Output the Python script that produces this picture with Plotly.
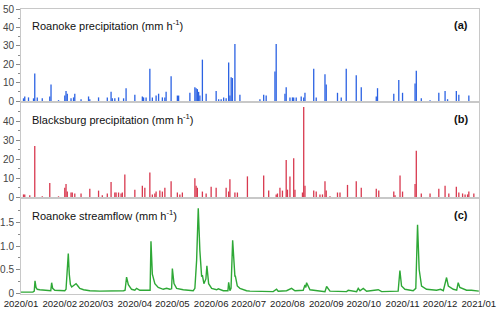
import plotly.graph_objects as go
from plotly.subplots import make_subplots
import pandas as pd

# ---------------- data ----------------
roa_dates = ["2020-01-03", "2020-01-04", "2020-01-07", "2020-01-11", "2020-01-12", "2020-01-14",
             "2020-01-18", "2020-01-24", "2020-01-25", "2020-01-31", "2020-02-05", "2020-02-06",
             "2020-02-07", "2020-02-10", "2020-02-12", "2020-02-13", "2020-02-18", "2020-02-24",
             "2020-02-25", "2020-03-03", "2020-03-10", "2020-03-13", "2020-03-14", "2020-03-16",
             "2020-03-19", "2020-03-23", "2020-03-25", "2020-04-01", "2020-04-07", "2020-04-08",
             "2020-04-10", "2020-04-13", "2020-04-15", "2020-04-18", "2020-04-20", "2020-04-23",
             "2020-04-25", "2020-04-26", "2020-04-30", "2020-05-05", "2020-05-06", "2020-05-15",
             "2020-05-19", "2020-05-20", "2020-05-21", "2020-05-22", "2020-05-23", "2020-05-25",
             "2020-05-28", "2020-06-05", "2020-06-07", "2020-06-09", "2020-06-11", "2020-06-13",
             "2020-06-15", "2020-06-16", "2020-06-17", "2020-06-18", "2020-06-20", "2020-06-24",
             "2020-07-10", "2020-07-13", "2020-07-15", "2020-07-22", "2020-07-23", "2020-07-30",
             "2020-07-31", "2020-08-03", "2020-08-05", "2020-08-06", "2020-08-08", "2020-08-12",
             "2020-08-14", "2020-08-15", "2020-08-22", "2020-08-24", "2020-08-31", "2020-09-01",
             "2020-09-10", "2020-09-13", "2020-09-17", "2020-09-25", "2020-09-29", "2020-10-11",
             "2020-10-12", "2020-10-25", "2020-10-29", "2020-11-01", "2020-11-11", "2020-11-12",
             "2020-11-16", "2020-11-23", "2020-11-30", "2020-12-05", "2020-12-07", "2020-12-14",
             "2020-12-16", "2020-12-24"]
roa_vals = [1.5, 2.5, 2, 1.5, 15, 2,
            1.5, 2.5, 9, 0.5, 3, 5.5,
            4, 1.5, 2, 4, 1, 2.5,
            1, 2, 2, 5, 1.5, 1.5,
            2, 1.5, 7, 3.5, 2.5, 2,
            2, 17.5, 2, 3, 4, 2,
            2, 5, 13.5, 3, 3, 4.5,
            7.5, 7, 6.5, 5, 3, 22.5,
            4, 5.5, 1, 1, 2, 1.5,
            21, 3, 13, 12.5, 31, 3.5,
            1, 3.5, 3, 16, 31, 4,
            7.5, 2, 2, 2, 2, 2.5,
            2, 4.5, 17.5, 2, 14.5, 9,
            4.5, 2, 17.5, 14, 7.5, 2.5,
            7, 4, 11.5, 4.5, 9.5, 16.5,
            1.5, 0.5, 4.5, 5.5, 1, 5.5,
            3.5, 3]

bks_dates = ["2020-01-03", "2020-01-04", "2020-01-08", "2020-01-12", "2020-01-18", "2020-01-24",
             "2020-01-31", "2020-02-05", "2020-02-06", "2020-02-07", "2020-02-10", "2020-02-11",
             "2020-02-13", "2020-02-18", "2020-02-25", "2020-03-03", "2020-03-06", "2020-03-10",
             "2020-03-13", "2020-03-16", "2020-03-17", "2020-03-19", "2020-03-21", "2020-03-22",
             "2020-03-24", "2020-04-01", "2020-04-07", "2020-04-09", "2020-04-13", "2020-04-15",
             "2020-04-17", "2020-04-18", "2020-04-21", "2020-04-23", "2020-04-25", "2020-04-30",
             "2020-05-05", "2020-05-07", "2020-05-09", "2020-05-19", "2020-05-20", "2020-05-21",
             "2020-05-25", "2020-05-28", "2020-06-01", "2020-06-05", "2020-06-13", "2020-06-15",
             "2020-06-16", "2020-06-20", "2020-06-22", "2020-06-30", "2020-07-13", "2020-07-17",
             "2020-07-23", "2020-07-24", "2020-07-26", "2020-07-28", "2020-07-31", "2020-08-01",
             "2020-08-03", "2020-08-06", "2020-08-07", "2020-08-13", "2020-08-14", "2020-08-15",
             "2020-08-22", "2020-08-24", "2020-08-27", "2020-08-29", "2020-08-31", "2020-09-01",
             "2020-09-04", "2020-09-10", "2020-09-12", "2020-09-18", "2020-09-25", "2020-09-29",
             "2020-10-11", "2020-10-13", "2020-10-25", "2020-10-26", "2020-10-30", "2020-11-01",
             "2020-11-11", "2020-11-12", "2020-11-16", "2020-11-23", "2020-11-30", "2020-12-05",
             "2020-12-08", "2020-12-14", "2020-12-16", "2020-12-19", "2020-12-21", "2020-12-23",
             "2020-12-24", "2020-12-28"]
bks_vals = [1.5, 1.5, 1, 27, 0.5, 7.5,
            0.5, 5, 7, 3, 2.5, 2.5,
            2, 2, 4.5, 3.5, 1, 2,
            8, 2.5, 2.5, 2.5, 2, 2.5,
            12, 4, 6, 5, 13, 1.5,
            2, 3, 3.5, 3, 5, 8.5,
            2.5, 1.5, 2.5, 10, 6, 5,
            3, 2, 5.5, 5, 5, 3,
            9.5, 2.5, 2.5, 11, 11.5, 3.5,
            1.5, 2, 5, 3.5, 19.7, 4,
            11, 20.5, 4, 2.5, 47.5, 6,
            3.5, 3, 1.5, 1.5, 8.5, 3.5,
            0.5, 2.5, 2.5, 6.5, 8.5, 5,
            4.5, 3.5, 3, 1, 11.5, 3,
            7, 24.5, 2, 2, 4.5, 6,
            2, 5.5, 2.5, 2, 1.5, 1.5,
            3, 2]

# streamflow: day of year 2020 (0 = Jan 1) and value (mm/h)
flow_doy = [0, 9.5, 10.6, 11.2, 12, 13, 15, 20.5, 23.8, 24.5, 25.3, 27, 35,
            36, 36.9, 37.8, 38.6, 39.5, 40.5, 42, 44, 45.5, 47, 50, 55, 63, 72, 73.6, 82,
            83.2, 84.4, 85.8, 88.4, 91, 92.4, 95, 101, 103.2,
            103.9, 105, 107, 109.7, 113.7, 116.4, 119, 120.4,
            121, 122.3, 124.4, 129.7, 137.7, 139, 140.4,
            141.7, 143, 144.4, 145, 146.2, 147.8, 148.6, 150, 152.4, 156.4, 157.7, 161.7,
            165.4, 166, 167, 167.9, 169.2, 171, 171.3, 172.9, 175, 180.3,
            183, 201.6, 204.3, 205.6, 212.3, 216.3, 219, 225.6, 227, 227.7, 228.3, 231, 236.3,
            243, 244.3, 247, 260.3, 261.6, 268.3, 269.6, 271, 273.6, 276.3, 285.6, 288.3,
            301.5, 302.9, 304.2, 306.9, 313.5, 315.6, 317, 318.3, 320.2, 324.2, 332.2, 335.4,
            337.6, 340.2, 341.6, 345.6, 348.3, 349.5, 350.8, 356.2, 360.1, 366]
flow_vals = [0.02, 0.02, 0.04, 0.26, 0.12, 0.08, 0.07, 0.05, 0.05, 0.22, 0.1, 0.06, 0.05,
             0.08, 0.5, 0.84, 0.4, 0.18, 0.13, 0.16, 0.2, 0.15, 0.1, 0.07, 0.05, 0.04, 0.04, 0.05, 0.05,
             0.06, 0.34, 0.18, 0.08, 0.06, 0.1, 0.06, 0.05, 0.06,
             1.1, 0.4, 0.2, 0.12, 0.08, 0.1, 0.08, 0.09,
             0.52, 0.2, 0.1, 0.07, 0.05, 0.1, 0.7,
             1.8, 0.9, 0.35, 0.38, 0.2, 0.3, 0.58, 0.2, 0.1, 0.07, 0.09, 0.05,
             0.05, 0.23, 0.05, 0.1, 1.12, 0.35, 0.37, 0.15, 0.1, 0.05,
             0.04, 0.03, 0.08, 0.04, 0.05, 0.1, 0.05, 0.06, 0.17, 0.12, 0.22, 0.07, 0.05,
             0.03, 0.14, 0.04, 0.03, 0.06, 0.03, 0.1, 0.05, 0.1, 0.04, 0.07, 0.03,
             0.04, 0.48, 0.15, 0.08, 0.05, 0.1, 1.45, 0.5, 0.15, 0.08, 0.06, 0.08,
             0.05, 0.33, 0.15, 0.08, 0.06, 0.22, 0.12, 0.06, 0.06, 0.04]

panel_titles = ["Roanoke precipitation (mm h<sup>-1</sup>)",
                "Blacksburg precipitation (mm h<sup>-1</sup>)",
                "Roanoke streamflow (mm h<sup>-1</sup>)"]
panel_tags = ["<b>(a)</b>", "<b>(b)</b>", "<b>(c)</b>"]

month_ticks = pd.date_range("2020-01-01", "2021-01-01", freq="MS")
month_text = [d.strftime("%Y/%m") for d in month_ticks]

flow_x = [pd.Timestamp("2020-01-01") + pd.Timedelta(days=d) for d in flow_doy]


def spikes(dates, vals):
    """Vertical stems from 0 to each hourly-peak value (None breaks between stems)."""
    xs, ys = [], []
    for d, v in zip(dates, vals):
        xs += [d, d, None]
        ys += [0, v, None]
    return xs, ys


# ---------------- styling ----------------
BLUE = "#2b62e3"
RED = "#d8394f"
GREEN = "#2ea836"
FRAME = "#c8c8c8"
TICKC = "#8a8a8a"
FONT = "Liberation Sans, Arial, sans-serif"

fig = make_subplots(rows=3, cols=1, shared_xaxes=True, vertical_spacing=0)

rx, ry = spikes(roa_dates, roa_vals)
bx, by = spikes(bks_dates, bks_vals)
fig.add_trace(go.Scatter(x=rx, y=ry, mode="lines", connectgaps=False,
                         line=dict(color=BLUE, width=1.3)), row=1, col=1)
fig.add_trace(go.Scatter(x=bx, y=by, mode="lines", connectgaps=False,
                         line=dict(color=RED, width=1.3)), row=2, col=1)
fig.add_trace(go.Scatter(x=flow_x, y=flow_vals, mode="lines",
                         line=dict(color=GREEN, width=1.4)), row=3, col=1)

fig.update_layout(
    width=500, height=310,
    margin=dict(l=21, r=21, t=9, b=16, autoexpand=False),
    plot_bgcolor="white", paper_bgcolor="white",
    showlegend=False,
    font=dict(family=FONT, size=10, color="#333"),
)
fig.layout.yaxis.domain = [0.6737, 1.0]
fig.layout.yaxis2.domain = [0.3368, 0.6737]
fig.layout.yaxis3.domain = [0.0, 0.3368]

common_x = dict(range=["2020-01-01", "2021-01-01 03:00"], showline=True, mirror=True,
                linecolor=FRAME, linewidth=1, showgrid=False, zeroline=False, automargin=False)
fig.update_xaxes(**common_x)
fig.update_xaxes(showticklabels=False, ticks="", row=1, col=1)
fig.update_xaxes(showticklabels=False, ticks="", row=2, col=1)
fig.update_xaxes(tickmode="array", tickvals=month_ticks, ticktext=month_text, tickangle=0,
                 tickfont=dict(size=9.6, color="#222"), ticks="", row=3, col=1)

common_y = dict(showline=True, mirror=True, linecolor=FRAME, linewidth=1, showgrid=False,
                ticks="outside", ticklen=4, tickcolor=TICKC, tickwidth=1, automargin=False,
                tickfont=dict(size=10, color="#444"))
fig.update_yaxes(**common_y)
fig.update_yaxes(range=[-0.5, 50], tickmode="array", tickvals=[0, 10, 20, 30, 40, 50],
                 minor=dict(ticks="outside", ticklen=2, tickcolor=TICKC,
                            tickvals=[5, 15, 25, 35, 45]),
                 zeroline=True, zerolinecolor=BLUE, zerolinewidth=1.2, row=1, col=1)
fig.update_yaxes(range=[-0.4, 50.2], tickmode="array", tickvals=[0, 10, 20, 30, 40],
                 minor=dict(ticks="outside", ticklen=2, tickcolor=TICKC,
                            tickvals=[5, 15, 25, 35, 45]),
                 zeroline=True, zerolinecolor=RED, zerolinewidth=1.2, row=2, col=1)
fig.update_yaxes(range=[-0.02, 2.02], tickmode="array", tickvals=[0, 0.5, 1.0, 1.5],
                 ticktext=["0", "0.5", "1.0", "1.5"],
                 minor=dict(ticks="outside", ticklen=2, tickcolor=TICKC,
                            tickvals=[0.25, 0.75, 1.25, 1.75]),
                 zeroline=False, row=3, col=1)

yrefs = ["y domain", "y2 domain", "y3 domain"]
title_y = [0.83, 0.82, 0.82]
for i in range(3):
    fig.add_annotation(text=panel_titles[i], xref="paper", yref=yrefs[i],
                       x=0.019, y=title_y[i], xanchor="left", yanchor="middle",
                       showarrow=False, font=dict(family=FONT, size=11, color="#111"))
    fig.add_annotation(text=panel_tags[i], xref="paper", yref=yrefs[i],
                       x=0.981, y=title_y[i], xanchor="right", yanchor="middle",
                       showarrow=False, font=dict(family=FONT, size=11, color="#111"))

fig.write_html("out.html", config={"displayModeBar": False, "staticPlot": True},
               post_script="document.body.style.margin='0px';document.body.style.overflow='hidden';")
